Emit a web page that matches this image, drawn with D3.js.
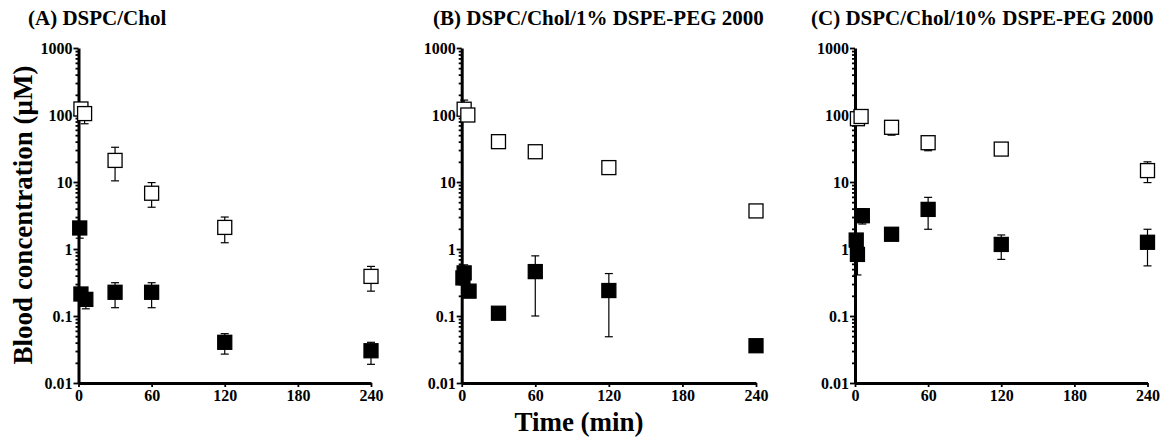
<!DOCTYPE html>
<html>
<head>
<meta charset="utf-8">
<script src="https://cdn.jsdelivr.net/npm/d3@7"></script>
<style>
body { margin: 0; background: #fff; }
text { font-family: "Liberation Serif", "Times New Roman", serif; font-weight: bold; fill: #000; }
</style>
</head>
<body>
<script>
//blood concentration panels, log y axis

var w = 1171;
var h = 439;

var panelTitles = ["(A) DSPC/Chol", "(B) DSPC/Chol/1% DSPE-PEG 2000", "(C) DSPC/Chol/10% DSPE-PEG 2000"];
var xTicks = [0, 60, 120, 180, 240];
var yTicks = [0.01, 0.1, 1, 10, 100, 1000];
var yTickLabels = ["0.01", "0.1", "1", "10", "100", "1000"];

// open squares (time, value, upper / lower error ends)
var openTimes = [2, 5, 30, 60, 120, 240];
var openA = [123, 105, 21, 6.8, 2.1, 0.39];
var openAHi = [null, null, 33, 9.8, 3.0, 0.55];
var openALo = [null, 74, 10.4, 4.2, 1.24, 0.235];
var openB = [122, 100, 40, 28.3, 16.4, 3.7];
var openBHi = [167, null, null, null, null, null];
var openBLo = [null, null, null, null, null, null];
var openC = [88, 95, 65.5, 38.6, 31, 14.8];
var openCHi = [118, null, null, null, null, 20];
var openCLo = [75, null, 50, 29.3, null, 9.8];

// filled squares
var filledTimes = [1, 2, 6, 30, 60, 120, 240];
var filledA = [2.06, 0.213, 0.177, 0.226, 0.226, 0.0405, 0.0303];
var filledAHi = [2.4, null, null, 0.314, 0.314, 0.0545, 0.0405];
var filledALo = [1.45, null, 0.128, 0.133, 0.133, 0.027, 0.019];
var filledB = [0.37, 0.44, 0.235, 0.11, 0.46, 0.24, 0.036];
var filledBHi = [null, 0.58, null, null, 0.79, 0.43, null];
var filledBLo = [null, null, null, null, 0.1, 0.049, null];
var filledC = [1.36, 0.83, 3.14, 1.66, 3.9, 1.17, 1.26];
var filledCHi = [null, null, 4.0, null, 5.9, 1.62, 1.97];
var filledCLo = [null, 0.41, 2.36, null, 1.97, 0.7, 0.56];

var panels = [
    {title: panelTitles[0], left: 78.5, right: 371, titleX: 28,
     open: [openA, openAHi, openALo], filled: [filledA, filledAHi, filledALo]},
    {title: panelTitles[1], left: 461.7, right: 756, titleX: 433,
     open: [openB, openBHi, openBLo], filled: [filledB, filledBHi, filledBLo]},
    {title: panelTitles[2], left: 855, right: 1147.5, titleX: 811,
     open: [openC, openCHi, openCLo], filled: [filledC, filledCHi, filledCLo]}
];

// plot top (1000) and bottom (0.01)
var yTop = 48, yBottom = 383;
var sq = 14;

var svg = d3.select("body")
    .append("svg")
    .attr("width", w)
    .attr("height", h);

var y = d3.scaleLog().domain([0.01, 1000]).range([yBottom, yTop]);

// minor log ticks 2..9 in each decade
var minor = [];
for (var e = -2; e < 3; e++) {
    for (var m = 2; m < 10; m++) {
        minor.push(m * Math.pow(10, e));
    }
}

function toRows(times, arr) {
    return times.map(function(t, i) {
        return {t: t, v: arr[0][i], hi: arr[1][i], lo: arr[2][i]};
    });
}

panels.forEach(function(p) {
    var x = d3.scaleLinear().domain([0, 240]).range([p.left, p.right]);
    var g = svg.append("g");

    g.append("text")
        .attr("x", p.titleX)
        .attr("y", 25)
        .style("font-size", "21px")
        .text(p.title);

    // minor ticks
    g.append("g")
        .attr("transform", "translate(" + p.left + ",0)")
        .call(d3.axisLeft(y).tickValues(minor).tickSize(3).tickSizeOuter(0).tickFormat(""))
        .call(function(a) { a.select(".domain").remove(); })
        .selectAll("line").attr("stroke-width", 1.8);

    var ya = g.append("g")
        .attr("transform", "translate(" + p.left + ",0)")
        .call(d3.axisLeft(y).tickValues(yTicks).tickSize(5).tickPadding(1).tickSizeOuter(0)
            .tickFormat(function(d, i) { return yTickLabels[i]; }))
        .attr("font-size", 16)
        .attr("font-family", null);
    ya.select(".domain").attr("stroke-width", 3);
    ya.selectAll("line").attr("stroke-width", 1.8);

    var xa = g.append("g")
        .attr("transform", "translate(0," + yBottom + ")")
        .call(d3.axisBottom(x).tickValues(xTicks).tickSize(4).tickPadding(3).tickSizeOuter(0))
        .attr("font-size", 16)
        .attr("font-family", null);
    xa.select(".domain").attr("stroke-width", 3);
    xa.selectAll("line").attr("stroke-width", 1.8);

    var rows = toRows(filledTimes, p.filled).map(function(d) { d.fill = "#000"; return d; })
        .concat(toRows(openTimes, p.open).map(function(d) { d.fill = "#fff"; return d; }));

    // error bars behind the squares
    var eb = g.append("g").attr("stroke", "#000").attr("stroke-width", 1.2);
    rows.forEach(function(d) {
        [d.hi, d.lo].forEach(function(end) {
            if (end == null) return;
            eb.append("line")
                .attr("x1", x(d.t)).attr("x2", x(d.t))
                .attr("y1", y(d.v)).attr("y2", y(end));
            eb.append("line")
                .attr("x1", x(d.t) - 4).attr("x2", x(d.t) + 4)
                .attr("y1", y(end)).attr("y2", y(end));
        });
    });

    g.selectAll(".pt")
        .data(rows)
        .enter()
        .append("rect")
        .attr("class", "pt")
        .attr("x", function(d) { return x(d.t) - sq / 2; })
        .attr("y", function(d) { return y(d.v) - sq / 2; })
        .attr("width", sq)
        .attr("height", sq)
        .attr("fill", function(d) { return d.fill; })
        .attr("stroke", "#000")
        .attr("stroke-width", 1.3);
});

svg.append("text")
    .attr("transform", "translate(32,215) rotate(-90)")
    .attr("text-anchor", "middle")
    .style("font-size", "27px")
    .text("Blood concentration (\u03bcM)");

svg.append("text")
    .attr("x", 579)
    .attr("y", 431)
    .attr("text-anchor", "middle")
    .style("font-size", "27px")
    .text("Time (min)");
</script>
</body>
</html>
